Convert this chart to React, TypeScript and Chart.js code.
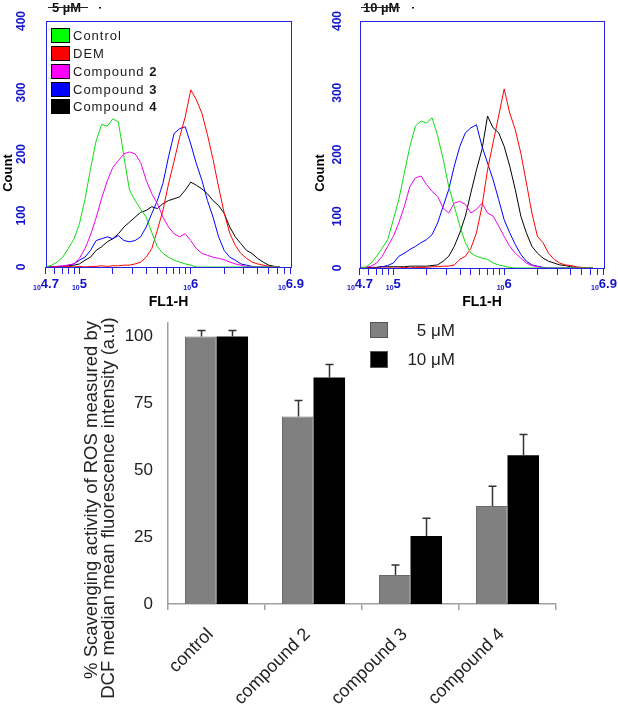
import React, { useEffect, useRef } from "react";
import { Chart, registerables } from "chart.js";

Chart.register(...registerables);

// ---------- flow cytometry histograms (x = log10 FL1-H) ----------
const fl1Log = [4.70, 4.75, 4.80, 4.85, 4.90, 4.95, 5.00, 5.05, 5.10, 5.15, 5.20, 5.25, 5.30, 5.35, 5.40, 5.45, 5.50, 5.55, 5.60, 5.65, 5.70, 5.75, 5.80, 5.85, 5.90, 5.95, 6.00, 6.05, 6.10, 6.15, 6.20, 6.25, 6.30, 6.35, 6.40, 6.45, 6.50, 6.55, 6.60, 6.65, 6.70, 6.75, 6.80];

// 5 µM panel
const control5 = [0, 3, 8, 16, 30, 45, 70, 110, 160, 205, 232, 229, 241, 236, 179, 125, 108, 94, 81, 56, 33, 22, 16, 11, 8, 5, 3, 0, 0, 0, 0, 0, 0, 0, 0, 0, 0, 0, 0, 0, 0, 0, 0];
const dem5 = [0, 0, 0, 0, 1, 0, 1, 0, 1, 1, 2, 1, 2, 2, 3, 3, 5, 8, 16, 30, 60, 92, 135, 172, 211, 244, 288, 272, 250, 215, 175, 130, 88, 55, 35, 22, 14, 8, 5, 3, 1, 0, 0];
const compound2_5 = [0, 0, 1, 2, 3, 5, 14, 30, 52, 80, 112, 140, 162, 173, 184, 187, 184, 170, 141, 119, 103, 81, 65, 54, 49, 54, 43, 30, 22, 19, 16, 14, 12, 8, 5, 3, 1, 0, 0, 0, 0, 0, 0];
const compound3_5 = [0, 0, 0, 1, 3, 5, 11, 16, 27, 43, 46, 49, 46, 51, 43, 41, 43, 49, 65, 87, 108, 136, 179, 217, 225, 228, 200, 168, 141, 108, 81, 49, 27, 16, 11, 5, 3, 1, 0, 0, 0, 0, 0];
const compound4_5 = [0, 0, 1, 1, 2, 3, 5, 11, 16, 27, 33, 41, 46, 54, 65, 73, 81, 89, 92, 98, 95, 103, 108, 111, 114, 125, 138, 133, 127, 119, 108, 100, 87, 65, 49, 38, 27, 22, 14, 8, 3, 1, 0];

// 10 µM panel
const control10 = [0, 1, 8, 19, 32, 46, 78, 111, 154, 197, 230, 238, 235, 243, 214, 176, 132, 100, 68, 41, 24, 19, 16, 14, 8, 5, 3, 1, 0, 0, 0, 0, 0, 0, 0, 0, 0, 0, 0, 0, 0, 0, 0];
const dem10 = [0, 0, 0, 0, 0, 0, 0, 0, 1, 0, 1, 1, 1, 2, 2, 3, 3, 5, 14, 19, 32, 57, 100, 159, 203, 246, 290, 251, 224, 186, 138, 89, 51, 41, 24, 14, 8, 5, 4, 2, 1, 0, 0];
const compound2_10 = [0, 1, 3, 8, 19, 35, 51, 73, 100, 132, 146, 149, 135, 124, 116, 97, 89, 105, 108, 103, 89, 95, 105, 89, 84, 68, 51, 35, 24, 16, 8, 4, 2, 0, 0, 0, 0, 0, 0, 0, 0, 0, 0];
const compound3_10 = [0, 0, 0, 1, 2, 4, 8, 19, 24, 30, 35, 41, 46, 54, 73, 100, 127, 165, 197, 219, 227, 232, 197, 170, 143, 111, 78, 57, 38, 22, 11, 5, 3, 1, 0, 0, 0, 0, 0, 0, 0, 0, 0];
const compound4_10 = [1, 1, 1, 1, 2, 2, 2, 2, 2, 3, 3, 3, 3, 4, 5, 11, 19, 35, 57, 84, 122, 159, 192, 246, 227, 219, 197, 165, 127, 84, 57, 35, 24, 16, 11, 8, 5, 4, 2, 1, 0, 0, 0];

const histNames = ["Control", "DEM", "Compound 2", "Compound 3", "Compound 4"];
const histLineColors = ["#10dd10", "#ff0000", "#ee00ee", "#0000ff", "#000000"];
const histSwatchColors = ["#00ff00", "#ff0000", "#ff00ff", "#0000ff", "#000000"];
const countTicks = [0, 100, 200, 300, 400];
const fl1LabelValues = [4.7, 5, 6, 6.9];
const fl1LabelExps = ["4.7", "5", "6", "6.9"];
const fl1MinorIntensities = [50000, 60000, 70000, 80000, 90000, 100000, 200000, 300000, 400000, 500000, 600000, 700000, 800000, 900000, 1000000, 2000000, 3000000, 4000000, 5000000, 6000000, 7000000, 7943282];

// ---------- bar chart ----------
const categories = ["control", "compound 2", "compound 3", "compound 4"];
const barSeriesLabels = ["5 μM", "10 μM"];
const mean5 = [100, 70.1, 10.8, 36.6];
const err5 = [2.3, 6.0, 3.8, 7.4];
const mean10 = [100, 84.7, 25.4, 55.6];
const err10 = [2.3, 4.9, 6.7, 7.8];
const scoreTicks = [0, 25, 50, 75, 100];
const yTitleLines = ["% Scavenging activity of ROS measured by", "DCF median mean fluorescence intensity (a.u)"];

const FONT = '"Liberation Sans", Arial, Helvetica, sans-serif';
const AXIS_BLUE = "#2323e6";
const LABEL_BLUE = "#1212cc";

type Area = { l: number; r: number; t: number; b: number };
type HistProps = {
  left: number;
  width: number;
  height: number;
  area: Area;
  series: number[][];
  title: string;
  titleX: number;
  strikeFrom: number;
  strikeTo: number;
  dotX: number;
  legend: boolean;
  yLabelX: number;
  countX: number;
};

function Histogram(p: HistProps) {
  const ref = useRef<HTMLCanvasElement>(null);
  useEffect(() => {
    const canvas = ref.current;
    if (!canvas) return;
    const { area, width, height } = p;
    const minorLog = fl1MinorIntensities.map((v) => Math.log10(v));

    const decor = {
      id: "histDecor",
      afterDraw(chart: any) {
        const { ctx, chartArea: a } = chart;
        const xs = chart.scales.x;
        const ys = chart.scales.y;
        ctx.save();
        ctx.strokeStyle = AXIS_BLUE;
        ctx.lineWidth = 1;
        const L = Math.round(a.left);
        const T = Math.round(a.top);
        ctx.strokeRect(L + 0.5, T + 0.5, Math.round(a.right) - L, Math.round(a.bottom) - T);

        ctx.fillStyle = LABEL_BLUE;
        ctx.font = `bold 12px ${FONT}`;
        ctx.textBaseline = "middle";
        countTicks.forEach((v, i) => {
          const py = ys.getPixelForValue(v);
          ctx.save();
          ctx.translate(p.yLabelX, py);
          ctx.rotate(-Math.PI / 2);
          ctx.textAlign = i === 0 || i === countTicks.length - 1 ? "center" : "right";
          ctx.fillText(String(v), 0, 0);
          ctx.restore();
        });

        ctx.textBaseline = "alphabetic";
        ctx.textAlign = "left";
        fl1LabelValues.forEach((v, i) => {
          const px = xs.getPixelForValue(v);
          ctx.font = `bold 7px ${FONT}`;
          const w1 = ctx.measureText("10").width;
          ctx.font = `bold 13px ${FONT}`;
          const w2 = ctx.measureText(fl1LabelExps[i]).width;
          const start = px - (w1 + w2) / 2;
          ctx.font = `bold 7px ${FONT}`;
          ctx.fillText("10", start, 290);
          ctx.font = `bold 13px ${FONT}`;
          ctx.fillText(fl1LabelExps[i], start + w1, 288);
        });

        ctx.fillStyle = "#000";
        ctx.font = `bold 14px ${FONT}`;
        ctx.textAlign = "center";
        ctx.fillText("FL1-H", (a.left + a.right) / 2, 306);
        ctx.save();
        ctx.translate(p.countX, 173);
        ctx.rotate(-Math.PI / 2);
        ctx.font = `bold 13px ${FONT}`;
        ctx.textBaseline = "middle";
        ctx.fillText("Count", 0, 0);
        ctx.restore();

        ctx.textAlign = "left";
        ctx.textBaseline = "alphabetic";
        ctx.font = `bold 13px ${FONT}`;
        ctx.fillStyle = "#111";
        ctx.fillText(p.title, p.titleX, 12);
        ctx.strokeStyle = "#222";
        ctx.beginPath();
        ctx.moveTo(p.strikeFrom, 7.5);
        ctx.lineTo(p.strikeTo, 7.5);
        ctx.stroke();
        ctx.fillRect(p.dotX, 7, 2, 1.5);

        if (p.legend) {
          const rowY = [35, 53, 71, 89, 106];
          histNames.forEach((name, i) => {
            const cy = rowY[i];
            ctx.fillStyle = histSwatchColors[i];
            ctx.fillRect(51, cy - 7, 19, 15);
            ctx.strokeStyle = "#000";
            ctx.lineWidth = 1;
            ctx.strokeRect(51.5, cy - 6.5, 18, 14);
            ctx.fillStyle = "#1a1a1a";
            ctx.textBaseline = "middle";
            ctx.textAlign = "left";
            (ctx as any).letterSpacing = "1px";
            const m = name.match(/^(.*\s)(\d)$/);
            if (m) {
              ctx.font = `13px ${FONT}`;
              ctx.fillText(m[1], 73, cy + 1);
              const w = ctx.measureText(m[1]).width;
              ctx.font = `bold 13px ${FONT}`;
              ctx.fillText(m[2], 73 + w, cy + 1);
            } else {
              ctx.font = `13px ${FONT}`;
              ctx.fillText(name, 73, cy + 1);
            }
            (ctx as any).letterSpacing = "0px";
          });
        }
        ctx.restore();
      },
    };

    const chart = new Chart(canvas, {
      type: "line",
      data: {
        datasets: p.series.map((s, i) => ({
          label: histNames[i],
          data: fl1Log.map((x, k) => ({ x, y: s[k] })),
          borderColor: histLineColors[i],
          borderWidth: 1,
          pointRadius: 0,
          tension: 0,
          fill: false,
        })),
      },
      options: {
        animation: false,
        responsive: false,
        maintainAspectRatio: false,
        events: [],
        layout: { padding: { left: 0, top: area.t, right: width - area.r, bottom: 0 } },
        plugins: { legend: { display: false }, tooltip: { enabled: false } },
        scales: {
          x: {
            type: "linear",
            min: 4.7,
            max: 6.9,
            afterFit: (s: any) => {
              s.height = height - area.b;
            },
            afterBuildTicks: (s: any) => {
              s.ticks = minorLog.map((v) => ({ value: v }));
            },
            ticks: { display: false },
            grid: { display: true, drawOnChartArea: false, drawTicks: true, tickLength: 7, color: AXIS_BLUE, lineWidth: 1 },
            border: { display: false },
          },
          y: {
            min: 0,
            max: 400,
            afterFit: (s: any) => {
              s.width = area.l;
            },
            ticks: { display: false },
            grid: { display: false, drawTicks: false },
            border: { display: false },
          },
        },
      } as any,
      plugins: [decor],
    });
    return () => chart.destroy();
  }, []);
  return (
    <canvas
      ref={ref}
      width={p.width}
      height={p.height}
      style={{ position: "absolute", left: p.left, top: 0, width: p.width, height: p.height }}
    />
  );
}

function ScavengingBars() {
  const ref = useRef<HTMLCanvasElement>(null);
  const W = 618;
  const H = 402;
  const TOP = 310;
  useEffect(() => {
    const canvas = ref.current;
    if (!canvas) return;
    const area: Area = { l: 168, r: 556, t: 13, b: 294 };
    const means = [mean5, mean10];
    const errs = [err5, err10];

    const decor = {
      id: "barDecor",
      afterDatasetsDraw(chart: any) {
        const { ctx } = chart;
        const ys = chart.scales.y;
        ctx.save();
        ctx.strokeStyle = "#333";
        ctx.lineWidth = 1.5;
        means.forEach((m, i) => {
          const meta = chart.getDatasetMeta(i);
          meta.data.forEach((bar: any, j: number) => {
            const top = ys.getPixelForValue(m[j] + errs[i][j]);
            const cx = Math.round(bar.x) + 0.5;
            ctx.beginPath();
            ctx.moveTo(cx, bar.y);
            ctx.lineTo(cx, top);
            ctx.moveTo(cx - 4, top);
            ctx.lineTo(cx + 4, top);
            ctx.stroke();
          });
        });
        ctx.restore();
      },
      afterDraw(chart: any) {
        const { ctx } = chart;
        ctx.save();
        ctx.fillStyle = "#222";
        ctx.font = `18.5px ${FONT}`;
        ctx.textAlign = "center";
        ctx.textBaseline = "middle";
        const lineX = [92, 109];
        const lineY = [500 - TOP, 508 - TOP];
        yTitleLines.forEach((t, i) => {
          ctx.save();
          ctx.translate(lineX[i], lineY[i]);
          ctx.rotate(-Math.PI / 2);
          ctx.fillText(t, 0, 0);
          ctx.restore();
        });
        const sw = [
          { y: 12, h: 16, fill: "#808080" },
          { y: 41, h: 17, fill: "#000000" },
        ];
        ctx.font = `17px ${FONT}`;
        ctx.textAlign = "right";
        barSeriesLabels.forEach((lab, i) => {
          ctx.fillStyle = sw[i].fill;
          ctx.fillRect(370, sw[i].y, 18, sw[i].h);
          ctx.strokeStyle = "#555";
          ctx.lineWidth = 1;
          ctx.strokeRect(370.5, sw[i].y + 0.5, 17, sw[i].h - 1);
          ctx.fillStyle = "#222";
          ctx.fillText(lab, 455, sw[i].y + sw[i].h / 2 + 1);
        });
        ctx.restore();
      },
    };

    const chart = new Chart(canvas, {
      type: "bar",
      data: {
        labels: categories,
        datasets: [
          {
            label: barSeriesLabels[0],
            data: mean5,
            backgroundColor: "#808080",
            borderColor: "#6a6a6a",
            borderWidth: 1,
            categoryPercentage: 0.65,
            barPercentage: 1,
          },
          {
            label: barSeriesLabels[1],
            data: mean10,
            backgroundColor: "#000000",
            borderWidth: 0,
            categoryPercentage: 0.65,
            barPercentage: 1,
          },
        ],
      },
      options: {
        animation: false,
        responsive: false,
        maintainAspectRatio: false,
        events: [],
        layout: { padding: { left: 0, top: area.t, right: W - area.r, bottom: 0 } },
        plugins: { legend: { display: false }, tooltip: { enabled: false } },
        scales: {
          x: {
            afterFit: (s: any) => {
              s.height = H - area.b;
            },
            grid: { display: true, drawOnChartArea: false, drawTicks: true, tickLength: 6, color: "#a0a0a0", lineWidth: 1.5, offset: true },
            border: { display: true, color: "#a0a0a0", width: 1.5 },
            ticks: {
              color: "#222",
              font: { family: FONT, size: 18 },
              minRotation: 45,
              maxRotation: 45,
              padding: 14,
              labelOffset: -6,
              autoSkip: false,
            },
          },
          y: {
            min: 0,
            max: 105,
            afterBuildTicks: (s: any) => {
              s.ticks = scoreTicks.map((v) => ({ value: v }));
            },
            afterFit: (s: any) => {
              s.width = area.l;
            },
            grid: { display: false, drawTicks: true, tickLength: 12 },
            border: { display: true, color: "#a0a0a0", width: 1.5 },
            ticks: { color: "#222", font: { family: FONT, size: 17 }, padding: 3 },
          },
        },
      } as any,
      plugins: [decor],
    });
    return () => chart.destroy();
  }, []);
  return (
    <canvas
      ref={ref}
      width={W}
      height={H}
      style={{ position: "absolute", left: 0, top: TOP, width: W, height: H }}
    />
  );
}

export default function App() {
  return (
    <div style={{ position: "absolute", left: 0, top: 0, width: 618, height: 712, background: "#fff", overflow: "hidden" }}>
      <Histogram
        left={0}
        width={309}
        height={310}
        area={{ l: 46, r: 291, t: 21, b: 267 }}
        series={[control5, dem5, compound2_5, compound3_5, compound4_5]}
        title="5 µM"
        titleX={52}
        strikeFrom={48}
        strikeTo={88}
        dotX={99}
        legend={true}
        yLabelX={22}
        countX={8}
      />
      <Histogram
        left={309}
        width={309}
        height={310}
        area={{ l: 51, r: 295, t: 21, b: 268 }}
        series={[control10, dem10, compound2_10, compound3_10, compound4_10]}
        title="10 µM"
        titleX={54}
        strikeFrom={52}
        strikeTo={91}
        dotX={103}
        legend={false}
        yLabelX={29}
        countX={11}
      />
      <ScavengingBars />
    </div>
  );
}
